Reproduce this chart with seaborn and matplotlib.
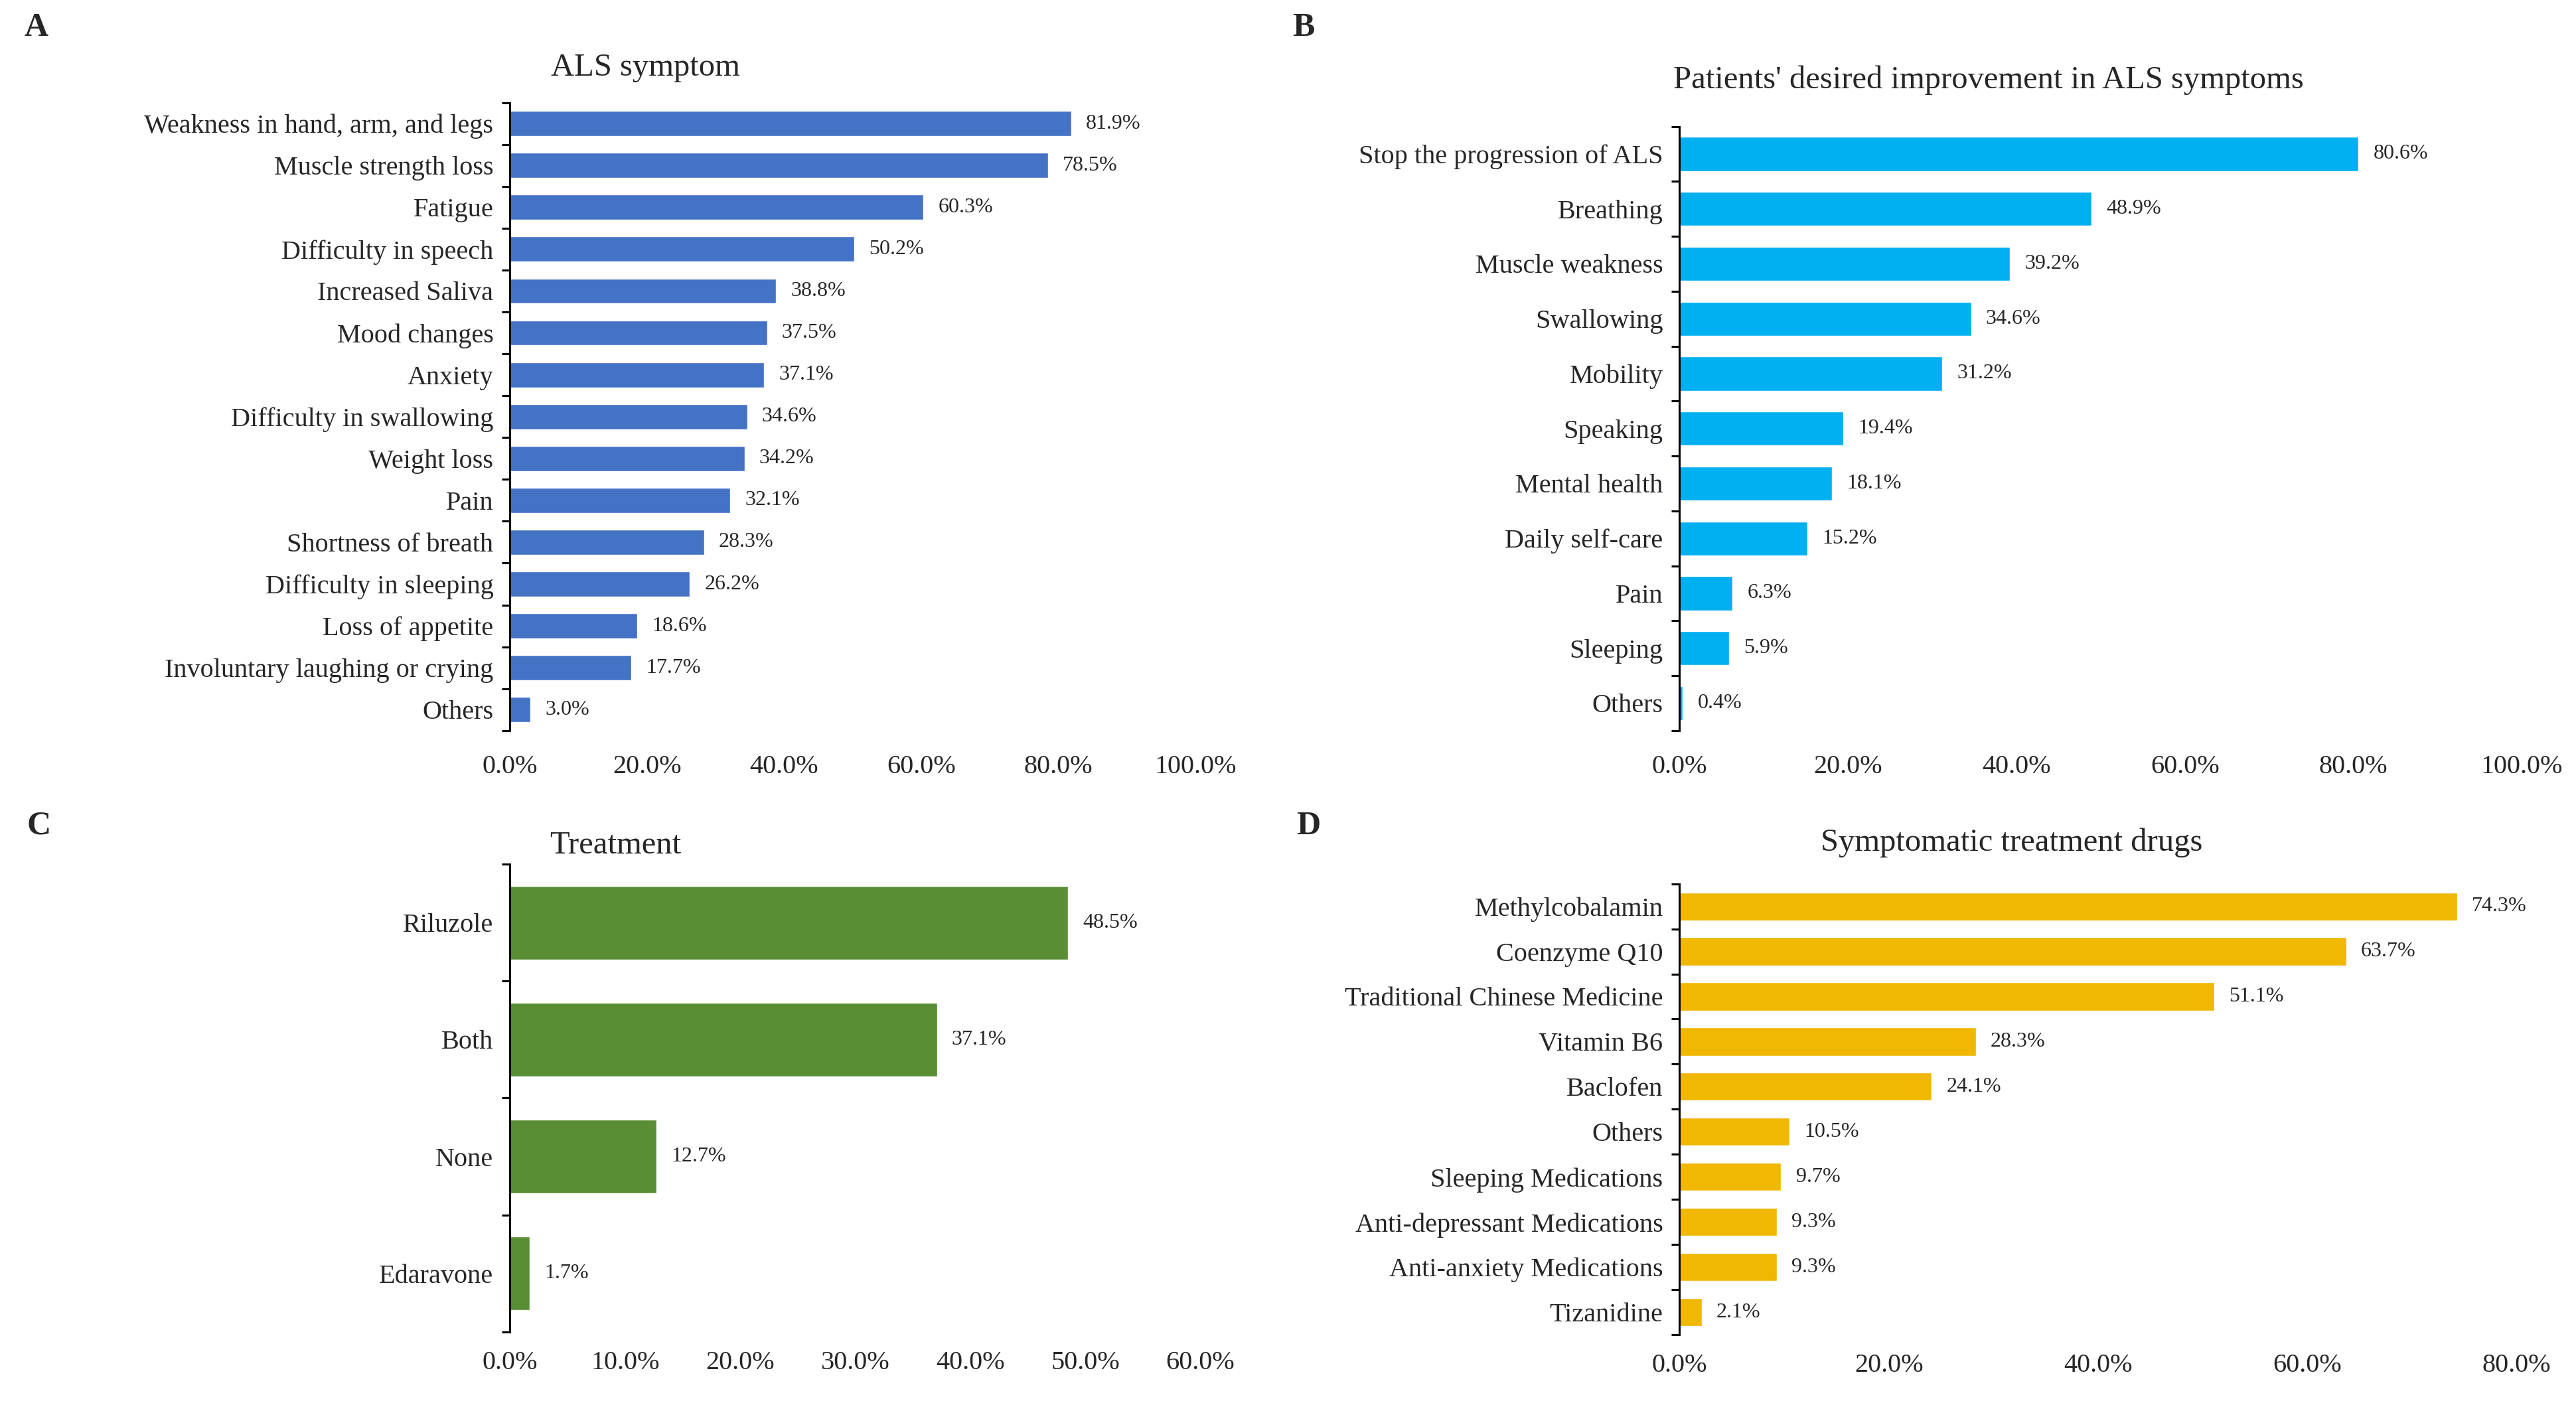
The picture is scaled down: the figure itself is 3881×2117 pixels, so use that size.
import pandas as pd
import matplotlib
matplotlib.use('Agg')
import matplotlib.pyplot as plt
import seaborn as sns

sns.set_style('white')
plt.rcParams['font.family'] = ['Liberation Serif', 'DejaVu Serif']

# A
symptom_names = ['Weakness in hand, arm, and legs', 'Muscle strength loss', 'Fatigue',
                 'Difficulty in speech', 'Increased Saliva', 'Mood changes', 'Anxiety',
                 'Difficulty in swallowing', 'Weight loss', 'Pain', 'Shortness of breath',
                 'Difficulty in sleeping', 'Loss of appetite', 'Involuntary laughing or crying',
                 'Others']
symptom_pct = [81.9, 78.5, 60.3, 50.2, 38.8, 37.5, 37.1, 34.6, 34.2, 32.1, 28.3, 26.2, 18.6, 17.7, 3.0]

# B
improve_names = ['Stop the progression of ALS', 'Breathing', 'Muscle weakness', 'Swallowing',
                 'Mobility', 'Speaking', 'Mental health', 'Daily self-care', 'Pain',
                 'Sleeping', 'Others']
improve_pct = [80.6, 48.9, 39.2, 34.6, 31.2, 19.4, 18.1, 15.2, 6.3, 5.9, 0.4]

# C
treat_names = ['Riluzole', 'Both', 'None', 'Edaravone']
treat_pct = [48.5, 37.1, 12.7, 1.7]

# D
drug_names = ['Methylcobalamin', 'Coenzyme Q10', 'Traditional Chinese Medicine', 'Vitamin B6',
              'Baclofen', 'Others', 'Sleeping Medications', 'Anti-depressant Medications',
              'Anti-anxiety Medications', 'Tizanidine']
drug_pct = [74.3, 63.7, 51.1, 28.3, 24.1, 10.5, 9.7, 9.3, 9.3, 2.1]

fig = plt.figure(figsize=(38.81, 21.17), dpi=100)


def panel(rect, names, vals, color, xmax, xstep, bar_w, xpad):
    ax = fig.add_axes(rect)
    df = pd.DataFrame({'name': names, 'pct': vals})
    sns.barplot(data=df, y='name', x='pct', orient='h', color=color,
                width=bar_w, saturation=1, ax=ax)
    n = len(names)
    ax.set_ylim(n - 0.5, -0.5)
    ax.set_xlim(0, xmax)
    ax.set_xticks(range(0, xmax + 1, xstep))
    ax.set_xticklabels(['%.1f%%' % v for v in range(0, xmax + 1, xstep)], fontsize=29)
    ax.set_xlabel('')
    ax.set_ylabel('')
    ax.tick_params(axis='y', which='major', length=0, pad=18, labelsize=29)
    ax.tick_params(axis='x', length=0, pad=xpad)
    # excel style ticks between categories
    ax.set_yticks([i - 0.5 for i in range(n + 1)], minor=True)
    ax.tick_params(axis='y', which='minor', left=True, length=9, width=2.2,
                   color='black', direction='out')
    for s in ['top', 'right', 'bottom']:
        ax.spines[s].set_visible(False)
    ax.spines['left'].set_color('black')
    ax.spines['left'].set_linewidth(2.2)
    ax.bar_label(ax.containers[0], fmt='%.1f%%', padding=16, fontsize=23)
    return ax


panel([0.198, 0.480, 0.266, 0.447], symptom_names, symptom_pct, '#4472C4', 100, 20, 0.6, 26)
panel([0.652, 0.480, 0.327, 0.430], improve_names, improve_pct, '#00B0F0', 100, 20, 0.62, 26)
panel([0.198, 0.052, 0.268, 0.333], treat_names, treat_pct, '#5A8E34', 60, 10, 0.63, 20)
panel([0.652, 0.050, 0.325, 0.321], drug_names, drug_pct, '#F0B800', 80, 20, 0.62, 20)

fig.text(0.2506, 0.952, 'ALS symptom', fontsize=35, ha='center', va='center')
fig.text(0.772, 0.943, "Patients' desired improvement in ALS symptoms", fontsize=35, ha='center', va='center')
fig.text(0.239, 0.398, 'Treatment', fontsize=35, ha='center', va='center')
fig.text(0.781, 0.400, 'Symptomatic treatment drugs', fontsize=35, ha='center', va='center')

for lx, ly, letter in [(0.014, 0.980, 'A'), (0.506, 0.980, 'B'), (0.015, 0.412, 'C'), (0.508, 0.412, 'D')]:
    fig.text(lx, ly, letter, fontsize=36, fontweight='bold', ha='center', va='center')

fig.savefig('out.png', dpi=100)
